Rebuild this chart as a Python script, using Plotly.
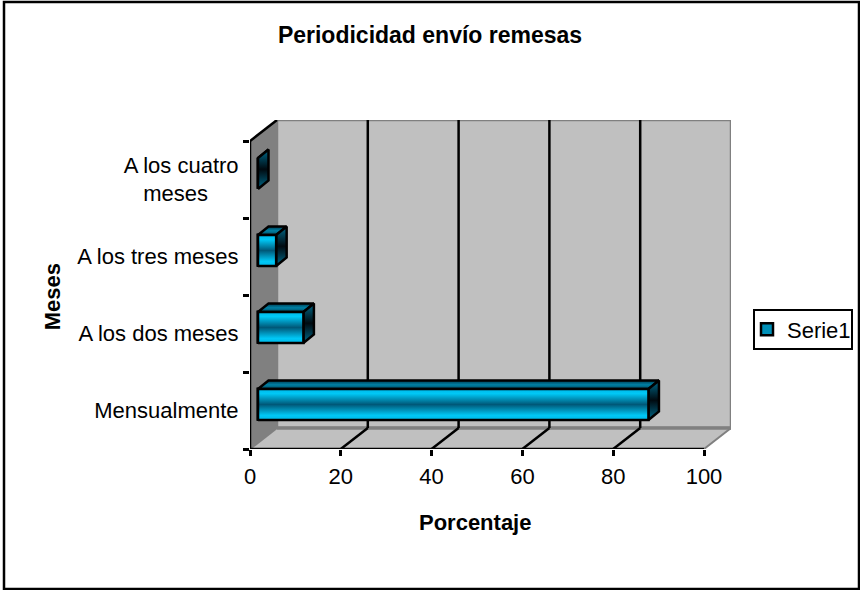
import plotly.graph_objects as go

categories = ["Mensualmente", "A los dos meses", "A los tres meses",
              "A los cuatro<br>meses\u00a0\u00a0\u00a0\u00a0\u00a0"]
values = [86, 10, 4, 0]
x_ticks = [0, 20, 40, 60, 80, 100]
series_name = "Serie1"

W, H = 860, 590
L, R, T, B = 250, 731, 120, 449
PX_X = 4.54
PX_Y = 77.0
XMAX = (R - L) / PX_X
YMAX = (B - T) / PX_Y
WALL_DX = 27 / PX_X
WALL_DY = 21 / PX_Y
BAR_X0 = 8 / PX_X
BAR_DY = 6 / PX_Y
BAR_H = 31 / PX_Y
DEPTH_X = 10.5 / PX_X
DEPTH_Y = 8.5 / PX_Y

FRONT = [[0, "#00B8E8"], [0.15, "#00C8F6"], [0.5, "#005878"], [0.85, "#00C8F6"], [1, "#00B8E8"]]
SIDE = [[0, "#006A8A"], [0.5, "#000A10"], [1, "#006A8A"]]
TOP = [[0, "#004A60"], [0.5, "#0080A4"], [1, "#003A4E"]]

fig = go.Figure()

y_centers = [i + 0.5 for i in range(len(categories))]

fig.add_trace(go.Bar(
    x=values, y=[c + BAR_DY for c in y_centers], base=BAR_X0, width=BAR_H,
    orientation="h", name=series_name, showlegend=True,
    marker=dict(color="#0090B8", line=dict(color="black", width=2.5)),
))


def poly(xs, ys, scale):
    fig.add_trace(go.Scatter(
        x=xs + xs[:1], y=ys + ys[:1], mode="lines", fill="toself",
        line=dict(color="black", width=2.5),
        fillgradient=dict(type="vertical", colorscale=scale),
        showlegend=False, hoverinfo="skip",
    ))


for v, c in zip(values, y_centers):
    x0, x1 = BAR_X0, BAR_X0 + v
    y0, y1 = c + BAR_DY - BAR_H / 2, c + BAR_DY + BAR_H / 2
    poly([x0, x1, x1 + DEPTH_X, x0 + DEPTH_X], [y1, y1, y1 + DEPTH_Y, y1 + DEPTH_Y], TOP)
    poly([x1, x1 + DEPTH_X, x1 + DEPTH_X, x1], [y0, y0 + DEPTH_Y, y1 + DEPTH_Y, y1], SIDE)
    if v > 0:
        poly([x0, x1, x1, x0], [y0, y0, y1, y1], FRONT)

shapes = []


def line(x0, y0, x1, y1, color="black", width=2.5, layer="below"):
    shapes.append(dict(type="line", xref="x", yref="y", x0=x0, y0=y0, x1=x1, y1=y1,
                       line=dict(color=color, width=width), layer=layer))


top = len(categories)
shapes.append(dict(type="rect", xref="x", yref="y", x0=WALL_DX, y0=WALL_DY, x1=100 + WALL_DX, y1=top + WALL_DY,
                   fillcolor="#C0C0C0", line=dict(color="#808080", width=2.5), layer="below"))
shapes.append(dict(type="path", xref="x", yref="y",
                   path=f"M 0 0 L {WALL_DX} {WALL_DY} L {WALL_DX} {top + WALL_DY} L 0 {top} Z",
                   fillcolor="#808080", line=dict(width=0), layer="below"))
shapes.append(dict(type="path", xref="x", yref="y",
                   path=f"M 0 0 L 100 0 L {100 + WALL_DX} {WALL_DY} L {WALL_DX} {WALL_DY} Z",
                   fillcolor="#C0C0C0", line=dict(width=0), layer="below"))
line(0, 0, WALL_DX, WALL_DY, "#808080", 2)
line(100, 0, 100 + WALL_DX, WALL_DY, "#808080", 2)
line(WALL_DX, WALL_DY, 100 + WALL_DX, WALL_DY, "#808080", 3.5)
for t in x_ticks[1:-1]:
    line(t + WALL_DX, WALL_DY, t + WALL_DX, top + WALL_DY)
    line(t, 0, t + WALL_DX, WALL_DY)
line(0, 0, 0, top)
line(0, top, WALL_DX, top + WALL_DY)
line(0, 0, 100, 0)

shapes.append(dict(type="rect", xref="paper", yref="paper", x0=4 / W, x1=859 / W, y0=1 / H, y1=1 - 2 / H,
                   line=dict(color="black", width=2.5), fillcolor="rgba(0,0,0,0)", layer="below"))
# legend frame
shapes.append(dict(type="rect", xref="paper", yref="paper", x0=754 / W, x1=852 / W, y0=1 - 349 / H, y1=1 - 310 / H,
                   line=dict(color="black", width=2), fillcolor="white", layer="below"))

font = "Liberation Sans, Arial, sans-serif"
fig.update_layout(
    width=W, height=H, margin=dict(l=0, r=0, t=0, b=0),
    paper_bgcolor="white", plot_bgcolor="rgba(0,0,0,0)",
    font=dict(family=font, size=22, color="black"),
    showlegend=True, bargap=0, shapes=shapes,
    title=dict(text="<b>Periodicidad envío remesas</b>", x=430 / W, xanchor="center",
               y=1 - 35 / H, yanchor="middle", font=dict(size=23)),
    legend=dict(x=856 / W, y=1 - 329.5 / H, xanchor="right", yanchor="middle", bgcolor="rgba(0,0,0,0)",
                borderwidth=0, font=dict(size=22),
                entrywidth=62, entrywidthmode="pixels",
                itemclick=False, itemdoubleclick=False),
    xaxis=dict(domain=[L / W, R / W], range=[0, XMAX], showgrid=False, zeroline=False, automargin=False,
               tickmode="array", tickvals=x_ticks, ticks="outside", ticklen=6, tickwidth=2.5,
               tickcolor="black", showline=False, ticklabelstandoff=2,
               title=dict(text="<b>Porcentaje\u00a0\u00a0\u00a0\u00a0\u00a0</b>", standoff=26, font=dict(size=22))),
    yaxis=dict(domain=[1 - B / H, 1 - T / H], range=[0, YMAX], showgrid=False, zeroline=False, automargin=False,
               tickmode="array", tickvals=y_centers, ticktext=categories, ticks="outside",
               ticklen=6, tickcolor="rgba(0,0,0,0)", tickwidth=1, showline=False,
               minor=dict(tickmode="array", tickvals=list(range(len(categories) + 1)), ticks="outside",
                          ticklen=6, tickwidth=2.5, tickcolor="black"),
               title=dict(text="<b>Meses\u00a0\u00a0\u00a0\u00a0</b>", standoff=10, font=dict(size=22))),
)

fig.write_html("out.html", config={"displayModeBar": False},
               post_script="document.body.style.margin='0';window.dispatchEvent(new Event('resize'));")
